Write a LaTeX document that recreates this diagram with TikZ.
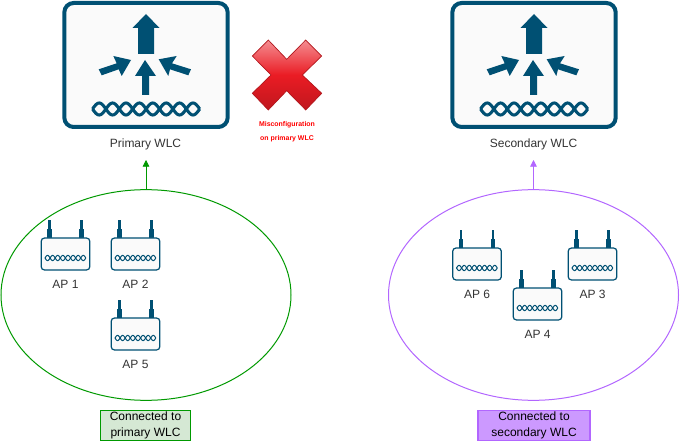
\documentclass[tikz,border=0pt]{standalone}
\usepackage{fontspec}
\setmainfont{Liberation Sans}
\usetikzlibrary{positioning, shapes.geometric, arrows.meta}

\definecolor{ciscoblue}{HTML}{005073}
\definecolor{wlcgreen}{HTML}{009900}
\definecolor{wlcpurple}{HTML}{B266FF}
\definecolor{crossred}{HTML}{EA1C24}

\tikzset{
	wlcbox/.style={draw=ciscoblue, fill=black!2, line width=3pt, rounded corners=7pt, minimum width=122.5pt, minimum height=93pt, inner sep=0pt},
	apbox/.style={draw=ciscoblue, fill=black!2, line width=0.9pt, rounded corners=2.5pt, minimum width=36.5pt, minimum height=24pt, inner sep=0pt},
	arrowblock/.style={fill=ciscoblue, draw=none},
	chainline/.style={draw=ciscoblue, smooth, variable=\t},
	label_txt/.style={font=\fontsize{9}{11}\selectfont, text=black!80, inner sep=0pt},
	groupring/.style={ellipse, draw=#1, line width=0.75pt, minimum width=217.5pt, minimum height=158pt, inner sep=0pt},
	groupnote/.style={draw=#1, line width=0.9pt, align=center, font=\fontsize{9}{11.5}\selectfont, text=black, inner sep=0pt, minimum height=23pt},
	uplink/.style={-{Triangle[length=5pt,width=5pt]}, draw=#1, line width=0.6pt},
	misc_txt/.style={text=red, font=\fontsize{5.2}{6}\selectfont\bfseries, inner sep=0pt},
	pics/apchain/.style={code={
		\draw[chainline, line width=0.75pt] plot[domain=0:8, samples=97] (\t*5.1, {2.6*sin(\t*180)});
		\draw[chainline, line width=0.75pt] plot[domain=0:8, samples=97] (\t*5.1, {-2.6*sin(\t*180)});
	}},
	pics/wlcicon/.style={code={
		% big arrow, then the three small ones
		\fill[arrowblock] (0,-79) -- (13.5,-65) -- (8,-65) -- (8,-39) -- (-8,-39) -- (-8,-65) -- (-13.5,-65) -- cycle;
		\fill[arrowblock] (-1,-33) -- (10,-17) -- (3,-17) -- (3,2) -- (-4,2) -- (-4,-17) -- (-11,-17) -- cycle;
		\fill[arrowblock] (-15,-33) -- (-24.3,-17) -- (-27.3,-23.7) -- (-44.3,-17.7) -- (-47.3,-23.7) -- (-29.3,-29.7) -- (-32.7,-37) -- cycle;
		\fill[arrowblock] (12.7,-33.7) -- (22.3,-17) -- (24,-23.7) -- (42.3,-17.7) -- (45,-23.7) -- (26,-29.7) -- (30.7,-37) -- cycle;
	}},
}

\begin{document}
\begin{tikzpicture}[x=0.75pt, y=-0.75pt]
	\useasboundingbox (0,0) rectangle (680,441);

	% controllers
	\foreach \n/\x/\t in {primary/146/Primary WLC, secondary/534/Secondary WLC} {
		\node[wlcbox] (\n) at (\x,65) {};
		\pic at (\x,93) {wlcicon};
		\draw[chainline, line width=2.3pt] plot[domain=0:8, samples=129] ({\x-53.5+\t*13.4}, {109+6*sin(\t*180)});
		\draw[chainline, line width=2.3pt] plot[domain=0:8, samples=129] ({\x-53.5+\t*13.4}, {109-6*sin(\t*180)});
		\node[label_txt] (\n_txt) at (\x-0.5,144) {\t};
	};

	% red cross
	\shade[top color=crossred!50!white, bottom color=crossred!82!black, middle color=crossred, draw=crossred!75!black, line width=0.5pt]
		(268.3,40) -- (286.7,59.3) -- (305.7,40) -- (321.7,56) -- (302.3,75) -- (321.7,93.3) -- (305.7,110) -- (286.7,90.7) -- (268.3,110) -- (252.3,93.3) -- (271,75) -- (252.3,56) -- cycle;
	\node[misc_txt] (cross_a) at (287,125) {Misconfiguration};
	\node[misc_txt] (cross_b) at (287,139) {on primary WLC};

	% groups of access points
	\node[groupring=wlcgreen] (ring_a) at (146,295) {};
	\node[groupring=wlcpurple] (ring_b) at (533.5,295) {};
	\coordinate (tip_a) at (146,160);
	\coordinate (tip_b) at (533.5,160);
	\draw[uplink=wlcgreen] (ring_a.north) -- (tip_a);
	\draw[uplink=wlcpurple] (ring_b.north) -- (tip_b);

	% access points
	\foreach \n/\x/\y in {1/65.5/254, 2/135.5/254, 5/135.5/334, 6/477/264, 3/592.5/264, 4/537.5/304} {
		\draw[ciscoblue, line width=3.2pt] (\x-16,\y-16) -- (\x-16,\y-25);
		\draw[ciscoblue, line width=3.2pt] (\x+16,\y-16) -- (\x+16,\y-25);
		\draw[ciscoblue, line width=1.6pt] (\x-16,\y-25) -- (\x-16,\y-34);
		\draw[ciscoblue, line width=1.6pt] (\x+16,\y-25) -- (\x+16,\y-34);
		\node[apbox] (ap\n) at (\x,\y) {};
		\pic at ({\x-20.5},{\y+4}) {apchain};
		\node[label_txt, below=7pt of ap\n] (ap\n_txt) {AP \n};
	};

	% legends
	\node[groupnote=wlcgreen, fill={rgb,255:red,213;green,232;blue,212}, minimum width=68pt] (note_a) at (145.5,425.5) {Connected to\\primary WLC};
	\node[groupnote=wlcpurple, fill={rgb,255:red,204;green,153;blue,255}, minimum width=84pt] (note_b) at (534,425.5) {Connected to\\secondary WLC};
\end{tikzpicture}
\end{document}
